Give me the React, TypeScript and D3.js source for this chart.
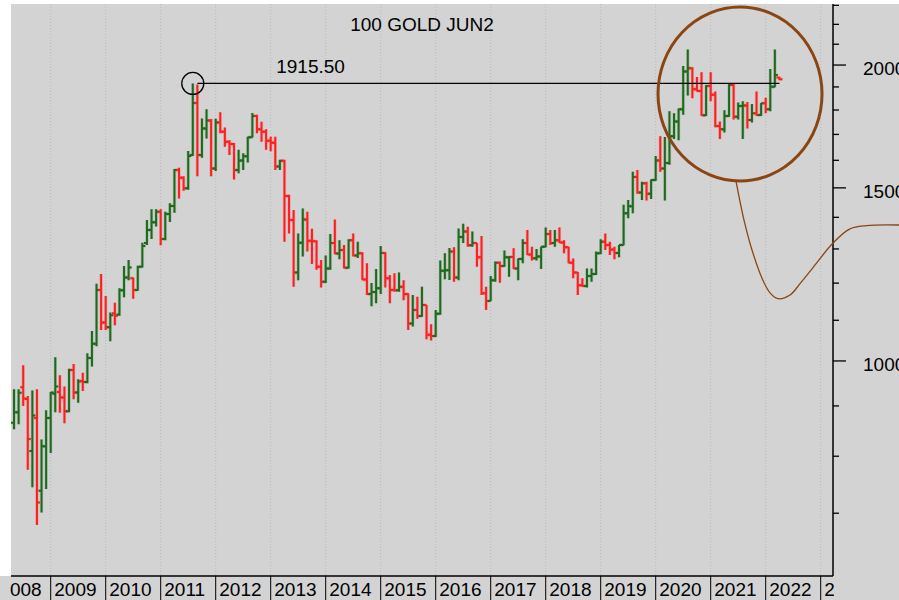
import React from "react";
import * as d3 from "d3";

// ---- DATA: monthly OHLC, 100 oz gold futures (continuation), May 2008 .. Apr 2022 ----
const FIRST_YEAR = 2008;
const FIRST_MONTH = 4; // May (0-based)

const OPEN = [
  865, 887, 940, 915, 810, 875, 738, 819,
  875, 926, 930, 918, 889, 979, 929, 954, 952, 1007, 1041, 1181,
  1094, 1082, 1118, 1115, 1180, 1216, 1214, 1181, 1247, 1318, 1359, 1384,
  1418, 1331, 1411, 1438, 1564, 1536, 1499, 1620, 1830, 1620, 1724, 1756,
  1570, 1748, 1711, 1671, 1662, 1564, 1599, 1615, 1689, 1775, 1721, 1711,
  1675, 1667, 1577, 1598, 1472, 1391, 1230, 1319, 1393, 1325, 1324, 1247,
  1204, 1242, 1318, 1286, 1297, 1244, 1327, 1280, 1287, 1210, 1170, 1175,
  1186, 1288, 1214, 1181, 1180, 1190, 1170, 1092, 1127, 1111, 1140, 1063,
  1060, 1117, 1235, 1237, 1292, 1216, 1337, 1354, 1311, 1318, 1275, 1172,
  1151, 1208, 1259, 1249, 1275, 1276, 1242, 1270, 1318, 1283, 1272, 1277,
  1307, 1346, 1318, 1327, 1320, 1305, 1259, 1230, 1194, 1192, 1220, 1226,
  1287, 1322, 1312, 1298, 1288, 1312, 1413, 1437, 1539, 1484, 1516, 1479,
  1528, 1599, 1570, 1590, 1693, 1752, 1803, 1970, 1985, 1890, 1882, 1778,
  1904, 1866, 1734, 1721, 1775, 1909, 1772, 1817, 1819, 1758, 1786, 1779,
  1829, 1803, 1901, 1942,
];
const HIGH = [
  936, 936, 990, 921, 933, 936, 832, 891,
  930, 1009, 967, 942, 982, 993, 958, 973, 1018, 1073, 1198, 1226,
  1164, 1120, 1146, 1186, 1249, 1267, 1216, 1250, 1319, 1391, 1427, 1427,
  1427, 1418, 1447, 1568, 1572, 1541, 1635, 1915.5, 1911, 1765, 1803, 1763,
  1764, 1791, 1728, 1677, 1666, 1640, 1627, 1691, 1787, 1780, 1751, 1721,
  1691, 1691, 1602, 1602, 1476, 1424, 1348, 1429, 1418, 1363, 1327, 1267,
  1280, 1346, 1393, 1327, 1312, 1330, 1348, 1322, 1290, 1257, 1200, 1240,
  1309, 1290, 1223, 1228, 1230, 1208, 1172, 1167, 1162, 1190, 1140, 1090,
  1127, 1265, 1287, 1303, 1305, 1364, 1379, 1369, 1354, 1318, 1340, 1190,
  1220, 1262, 1262, 1295, 1277, 1302, 1271, 1330, 1359, 1307, 1300, 1307,
  1367, 1359, 1359, 1367, 1327, 1307, 1271, 1232, 1214, 1242, 1242, 1292,
  1330, 1348, 1322, 1307, 1312, 1442, 1458, 1558, 1564, 1522, 1522, 1530,
  1616, 1693, 1690, 1795, 1786, 1806, 1996, 2074, 1990, 1945, 1966, 1909,
  1966, 1880, 1752, 1799, 1915, 1915, 1832, 1837, 1834, 1826, 1880, 1830,
  1852, 1981, 2074, 1946,
];
const LOW = [
  852, 862, 900, 775, 744, 681, 701, 741,
  806, 887, 886, 864, 887, 914, 907, 932, 949, 987, 1035, 1075,
  1075, 1047, 1087, 1112, 1161, 1208, 1157, 1179, 1245, 1312, 1331, 1370,
  1311, 1327, 1385, 1415, 1463, 1490, 1493, 1616, 1541, 1610, 1684, 1541,
  1560, 1705, 1652, 1620, 1530, 1552, 1564, 1592, 1688, 1705, 1671, 1640,
  1634, 1564, 1564, 1322, 1348, 1190, 1208, 1277, 1292, 1255, 1238, 1188,
  1200, 1238, 1284, 1269, 1242, 1242, 1277, 1273, 1208, 1167, 1137, 1145,
  1170, 1188, 1145, 1176, 1176, 1153, 1075, 1084, 1104, 1109, 1052, 1049,
  1058, 1114, 1211, 1209, 1204, 1208, 1318, 1307, 1307, 1247, 1167, 1127,
  1151, 1204, 1201, 1247, 1218, 1240, 1208, 1257, 1282, 1265, 1265, 1240,
  1305, 1312, 1307, 1318, 1287, 1257, 1214, 1167, 1190, 1188, 1204, 1223,
  1284, 1297, 1282, 1269, 1275, 1311, 1397, 1413, 1479, 1458, 1456, 1461,
  1525, 1558, 1456, 1583, 1682, 1677, 1780, 1862, 1850, 1880, 1775, 1775,
  1837, 1729, 1682, 1708, 1772, 1760, 1760, 1682, 1724, 1748, 1775, 1775,
  1786, 1795, 1899, 1930,
];
const CLOSE = [
  887, 928, 916, 833, 880, 718, 819, 875,
  929, 942, 918, 889, 979, 929, 953, 952, 1007, 1041, 1181, 1094,
  1082, 1113, 1112, 1180, 1216, 1245, 1181, 1247, 1309, 1359, 1384, 1418,
  1331, 1411, 1438, 1564, 1536, 1499, 1616, 1830, 1620, 1724, 1756, 1570,
  1748, 1711, 1671, 1662, 1564, 1599, 1615, 1689, 1775, 1721, 1711, 1675,
  1667, 1577, 1598, 1472, 1391, 1230, 1319, 1393, 1325, 1324, 1247, 1204,
  1242, 1318, 1286, 1297, 1244, 1327, 1280, 1287, 1210, 1170, 1175, 1186,
  1288, 1214, 1181, 1180, 1190, 1170, 1092, 1127, 1111, 1140, 1063, 1060,
  1117, 1235, 1237, 1292, 1216, 1337, 1354, 1311, 1318, 1275, 1172, 1151,
  1208, 1259, 1249, 1275, 1276, 1242, 1270, 1318, 1283, 1272, 1277, 1307,
  1346, 1318, 1327, 1320, 1305, 1259, 1230, 1194, 1192, 1220, 1226, 1287,
  1322, 1312, 1298, 1288, 1312, 1413, 1437, 1539, 1484, 1516, 1479, 1528,
  1599, 1570, 1590, 1693, 1752, 1803, 1970, 1985, 1890, 1882, 1778, 1904,
  1866, 1734, 1721, 1775, 1909, 1772, 1817, 1819, 1758, 1786, 1779, 1829,
  1803, 1901, 1954, 1934,
];

const YEAR_LABELS = ["2008", "2009", "2010", "2011", "2012", "2013", "2014", "2015",
  "2016", "2017", "2018", "2019", "2020", "2021", "2022", "2023"];
const MINOR_PRICE_TICKS = [700, 800, 900, 1100, 1200, 1300, 1400, 1600, 1700, 1800, 1900, 2100, 2200, 2300];
const MAJOR_PRICE_TICKS = [1000, 1500, 2000];

const TITLE = "100 GOLD JUN2";
const REF_LEVEL = 1915.5;          // the 2011 high
const REF_START = 2011 + 7 / 12;   // Aug 2011 bar (marked with a circle)
const REF_LINE_FROM = 2011 + 8 / 12;
const REF_LINE_TO = 2022 + 3 / 12;
const REF_LABEL_AT = 2013.1;

// annotation ellipse (data space centre) and the hand-drawn brown stroke
const ZONE_CENTER = { t: 2021.533, p: 1869 };
const CURVE_T = [2021.46, 2021.6055, 2021.7509, 2021.9327, 2022.0782, 2022.2236, 2022.4418,
  2022.6309, 2022.8673, 2023.2236, 2023.5236, 2023.8327, 2024.4236];
const CURVE_P = [1524, 1391, 1297, 1214, 1173, 1157, 1167, 1200, 1246, 1318, 1362, 1373, 1375];

const W = 899, H = 600;
const L = 11, R = 833, T = 4, B = 575;
const BG = "#d3d3d3";
const UP = "#1d6a1d";
const DOWN = "#ff1e1e";
const BROWN = "#8b4513";
const FONT = "'Liberation Sans', Arial, Helvetica, sans-serif";

export default function App() {
  const x = d3.scaleLinear().domain([2008, 2023]).range([-4.3, 820.7]);
  const y = d3.scaleLog().domain([605.7, 2307.4]).range([B, T]);

  const bars = OPEN.map((o, i) => {
    const t = FIRST_YEAR + (FIRST_MONTH + i) / 12;
    return { t, o, h: HIGH[i], l: LOW[i], c: CLOSE[i] };
  });

  const tick = 3;
  const barPath = (b: any) => {
    const cx = x(b.t);
    return `M${cx},${y(b.h)}V${y(b.l)}M${cx - tick},${y(b.o)}H${cx}M${cx},${y(b.c)}H${cx + tick}`;
  };

  const years = YEAR_LABELS.map((s) => ({ s, px: x(+s) }));

  const curve = d3
    .line<number>()
    .x((_, i) => x(CURVE_T[i]))
    .y((p) => y(p))
    .curve(d3.curveCatmullRom.alpha(0.5))(CURVE_P) as string;

  const refY = y(REF_LEVEL);

  return (
    <svg
      width={W}
      height={H}
      style={{ position: "absolute", left: 0, top: 0, display: "block" }}
      fontFamily={FONT}
    >
      <defs>
        <clipPath id="plotClip">
          <rect x={L} y={T} width={R - L} height={B - T} />
        </clipPath>
        <clipPath id="labelClip">
          <rect x={10} y={B} width={R + 1 - 10} height={H - B} />
        </clipPath>
      </defs>
      <rect x={0} y={0} width={W} height={H} fill="#ffffff" />
      <rect x={L} y={T} width={W - L} height={H - T} fill={BG} />
      <rect x={0} y={B + 1} width={W} height={H - B} fill={BG} />

      {/* year grid */}
      <g clipPath="url(#plotClip)">
        {years.map((d) => (
          <line key={d.s} x1={d.px} x2={d.px} y1={T} y2={B} stroke="#b9b9b9" strokeWidth={1} strokeDasharray="1,2" />
        ))}
      </g>

      {/* OHLC bars */}
      <g clipPath="url(#plotClip)" fill="none" strokeLinecap="butt">
        {bars.map((b, i) => (
          <path key={i} d={barPath(b)} stroke={b.c >= b.o ? UP : DOWN} strokeWidth={3.4} strokeOpacity={0.18} />
        ))}
        {bars.map((b, i) => (
          <path key={"b" + i} d={barPath(b)} stroke={b.c >= b.o ? UP : DOWN} strokeWidth={2} />
        ))}
      </g>

      {/* 2011 high reference */}
      <line x1={x(REF_LINE_FROM)} x2={x(REF_LINE_TO)} y1={refY} y2={refY} stroke="#000" strokeWidth={1.3} />
      <circle cx={x(REF_START)} cy={refY} r={11} fill="none" stroke="#000" strokeWidth={1.3} />
      <text x={x(REF_LABEL_AT)} y={refY - 10} fontSize={19} fill="#000">
        {d3.format(".2f")(REF_LEVEL)}
      </text>

      {/* title */}
      <text x={(L + R) / 2} y={30.5} fontSize={19} textAnchor="middle" fill="#000">
        {TITLE}
      </text>

      {/* right price axis */}
      <line x1={R} x2={R} y1={T} y2={B + 1} stroke="#000" strokeWidth={1.5} />
      {MINOR_PRICE_TICKS.map((p) => (
        <line key={p} x1={R} x2={R + 6} y1={y(p)} y2={y(p)} stroke="#000" strokeWidth={1.3} />
      ))}
      {MAJOR_PRICE_TICKS.map((p) => (
        <g key={p}>
          <line x1={R} x2={R + 13} y1={y(p)} y2={y(p)} stroke="#000" strokeWidth={1.3} />
          <text x={R + 30} y={y(p) + 10} fontSize={19} fill="#000">
            {p}
          </text>
        </g>
      ))}

      {/* bottom time axis */}
      <line x1={L} x2={R} y1={B + 1} y2={B + 1} stroke="#000" strokeWidth={1.5} />
      <g clipPath="url(#labelClip)">
        {years.map((d) => (
          <g key={d.s}>
            <line x1={d.px} x2={d.px} y1={B + 1} y2={H} stroke="#000" strokeWidth={1} />
            <text x={d.px + 3.6} y={596} fontSize={19} fill="#000">
              {d.s}
            </text>
          </g>
        ))}
      </g>

      {/* annotation: ellipse around recent range + hand-drawn stroke */}
      <ellipse cx={x(ZONE_CENTER.t)} cy={y(ZONE_CENTER.p)} rx={82} ry={87} fill="none" stroke={BROWN} strokeWidth={3} />
      <path d={curve} fill="none" stroke={BROWN} strokeWidth={1.3} />
    </svg>
  );
}
